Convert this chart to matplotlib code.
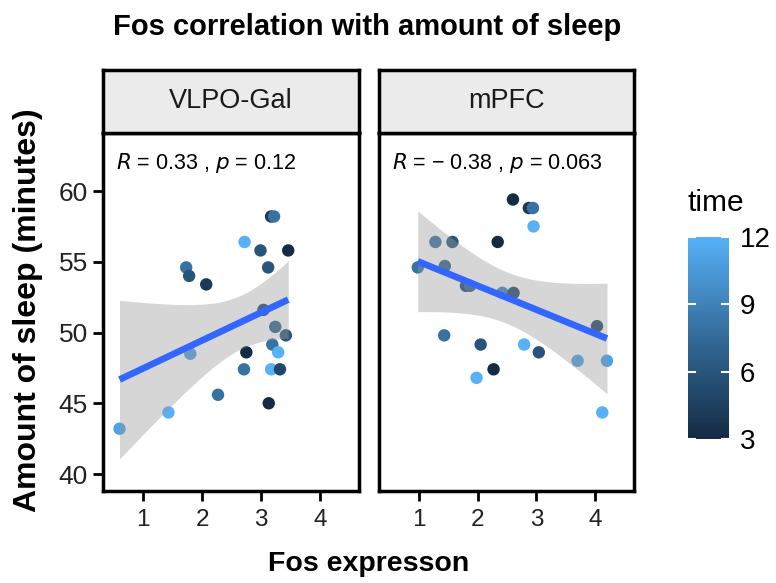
import numpy as np
import matplotlib
matplotlib.use("Agg")
import matplotlib.pyplot as plt
from matplotlib.colors import LinearSegmentedColormap, Normalize

plt.rcParams["font.family"] = ["Liberation Sans", "DejaVu Sans"]

# data
panels = ["VLPO-Gal", "mPFC"]
stats_text = ["$R$ = 0.33 , $p$ = 0.12", "$R$ = \u2212 0.38 , $p$ = 0.063"]

vlpo_fos = [3.17, 3.22, 2.72, 2.99, 3.46, 1.73, 1.78, 2.07, 3.12, 3.04, 3.24,
            3.42, 3.19, 3.29, 2.75, 1.80, 2.71, 3.17, 3.32, 2.27, 3.13, 1.43, 0.60]
vlpo_sleep = [58.2, 58.2, 56.4, 55.8, 55.8, 54.6, 54.0, 53.4, 54.6, 51.6, 50.4,
              49.8, 49.15, 48.6, 48.6, 48.5, 47.4, 47.4, 47.4, 45.6, 45.0, 44.35, 43.2]
vlpo_time = [4, 8, 12, 6, 3, 8, 6, 4, 6, 5, 7,
             6, 8, 12, 3, 11, 8, 12, 5, 8, 3, 12, 11]

mpfc_fos = [2.60, 2.87, 2.94, 2.95, 1.28, 1.57, 2.34, 0.98, 1.44, 1.80, 1.87,
            2.42, 2.61, 4.03, 1.43, 2.05, 2.79, 3.04, 3.70, 4.20, 2.27, 1.98, 4.12]
mpfc_sleep = [59.4, 58.8, 58.8, 57.5, 56.4, 56.4, 56.4, 54.6, 54.7, 53.3, 53.3,
              52.8, 52.8, 50.45, 49.8, 49.15, 49.15, 48.6, 48.0, 48.0, 47.4, 46.8, 44.35]
mpfc_time = [3, 4, 8, 12, 8, 6, 3, 8, 7, 5, 7,
             9, 5, 5, 8, 6, 12, 6, 11, 11, 3, 12, 12]

fos = [vlpo_fos, mpfc_fos]
sleep = [vlpo_sleep, mpfc_sleep]
time = [vlpo_time, mpfc_time]

cmap = LinearSegmentedColormap.from_list("gg", ["#132B43", "#336A98", "#56B1F7"])
norm = Normalize(vmin=3, vmax=12)

W, H = 776, 583
fig = plt.figure(figsize=(W / 100, H / 100), dpi=100)


def fx(px):
    return px / W


def fy(py):
    return 1 - py / H


panel_x = [(103, 359), (379, 634)]
top, bottom, strip_top = 133, 491, 70

for i, (x0, x1) in enumerate(panel_x):
    ax = fig.add_axes([fx(x0), fy(bottom), fx(x1 - x0), fy(top) - fy(bottom)])
    x = np.array(fos[i])
    y = np.array(sleep[i])
    ax.scatter(x, y, c=time[i], cmap=cmap, norm=norm, s=80, linewidths=0, zorder=2)

    # linear fit with 95% confidence band
    n = len(x)
    b, a = np.polyfit(x, y, 1)
    xs = np.linspace(x.min(), x.max(), 100)
    ys = a + b * xs
    resid = y - (a + b * x)
    s = np.sqrt(np.sum(resid ** 2) / (n - 2))
    sxx = np.sum((x - x.mean()) ** 2)
    se = s * np.sqrt(1 / n + (xs - x.mean()) ** 2 / sxx)
    t = 2.08
    ax.fill_between(xs, ys - t * se, ys + t * se, color="#999999", alpha=0.4,
                    linewidth=0, zorder=3)
    ax.plot(xs, ys, color="#3366FF", linewidth=4.8, zorder=4,
            solid_capstyle="butt")

    ax.set_xlim(0.32, 4.66)
    ax.set_ylim(38.8, 64.1)
    ax.set_xticks([1, 2, 3, 4])
    ax.set_yticks([40, 45, 50, 55, 60])
    ax.tick_params(labelsize=19, width=2, length=7, color="black",
                   labelcolor="#222222", pad=4)
    ax.tick_params(axis="x", labelsize=17.5, pad=6)
    if i > 0:
        ax.tick_params(axis="y", left=False, labelleft=False)
    for sp in ax.spines.values():
        sp.set_linewidth(2.5)
    ax.text(0.05, 0.95, stats_text[i], transform=ax.transAxes, fontsize=15.5,
            ha="left", va="top", color="black")

    # facet strip
    sax = fig.add_axes([fx(x0), fy(top), fx(x1 - x0), fy(strip_top) - fy(top)])
    sax.set_facecolor("#EBEBEB")
    sax.set_xticks([])
    sax.set_yticks([])
    for sp in sax.spines.values():
        sp.set_linewidth(2.5)
    sax.text(0.5, 0.5, panels[i], transform=sax.transAxes, fontsize=19.5,
             ha="center", va="center", color="#1A1A1A")

fig.text(fx(367), fy(27), "Fos correlation with amount of sleep", fontsize=21,
         fontweight="bold", ha="center", va="center")
fig.text(fx(369), fy(564), "Fos expresson", fontsize=20.5, fontweight="bold",
         ha="center", va="center")
fig.text(fx(28), fy(310), "Amount of sleep (minutes)", fontsize=23,
         fontweight="bold", ha="center", va="center", rotation=90)

# colour bar legend
cax = fig.add_axes([fx(688), fy(439), fx(41), fy(237) - fy(439)])
cb = fig.colorbar(plt.cm.ScalarMappable(norm=norm, cmap=cmap), cax=cax,
                  ticks=[3, 6, 9, 12])
cb.outline.set_visible(False)
cax.tick_params(labelsize=20, length=0, pad=8)
for v in [3, 6, 9, 12]:
    cax.plot([0, 0.18], [v, v], color="white", lw=1.5)
    cax.plot([0.82, 1], [v, v], color="white", lw=1.5)
cax.set_xlim(0, 1)
fig.text(fx(716), fy(203), "time", fontsize=21.5, ha="center", va="center")

fig.savefig("out.png", dpi=100)
